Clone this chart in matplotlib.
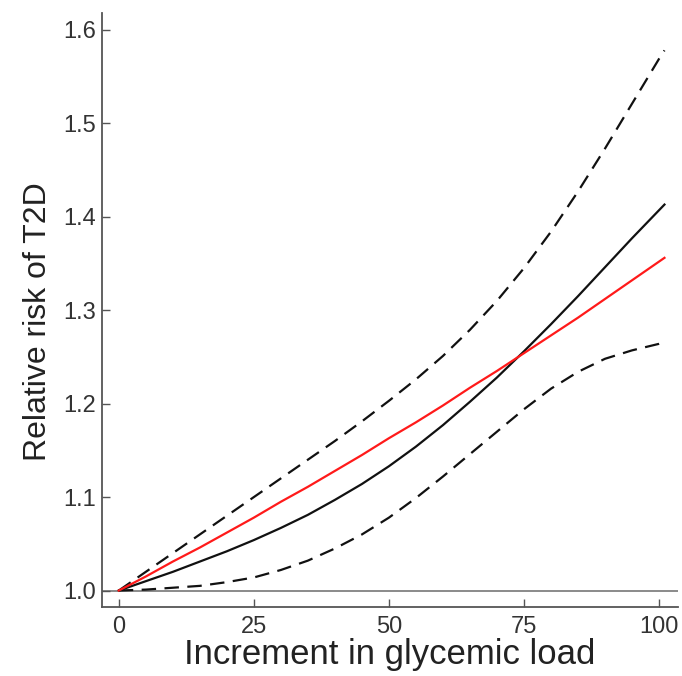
import matplotlib
matplotlib.use("Agg")
import matplotlib.pyplot as plt
import numpy as np

plt.rcParams['font.family'] = ['Liberation Sans', 'DejaVu Sans']

# values
gl = [0, 5, 10, 15, 20, 25, 30, 35, 40, 45, 50,
      55, 60, 65, 70, 75, 80, 85, 90, 95, 100, 101]
rr = [1.0, 1.010, 1.020, 1.031, 1.042, 1.054, 1.067, 1.081, 1.097, 1.114, 1.133,
      1.154, 1.177, 1.202, 1.228, 1.256, 1.285, 1.315, 1.346, 1.377, 1.407, 1.413]
rr_upper = [1.0, 1.020, 1.040, 1.060, 1.080, 1.100, 1.120, 1.140, 1.160, 1.181, 1.203,
            1.226, 1.251, 1.279, 1.310, 1.345, 1.384, 1.427, 1.473, 1.521, 1.569, 1.578]
rr_lower = [1.0, 1.001, 1.003, 1.005, 1.009, 1.014, 1.022, 1.032, 1.045, 1.060, 1.078,
            1.099, 1.122, 1.146, 1.170, 1.194, 1.216, 1.234, 1.248, 1.257, 1.264, 1.266]
rr_linear = [1.0, 1.015, 1.031, 1.046, 1.062, 1.078, 1.095, 1.111, 1.128, 1.145, 1.163,
             1.180, 1.198, 1.217, 1.235, 1.254, 1.273, 1.292, 1.312, 1.332, 1.352, 1.356]

xticks = [0, 25, 50, 75, 100]
yticks = [1.0, 1.1, 1.2, 1.3, 1.4, 1.5, 1.6]

fig = plt.figure(figsize=(6.82, 6.76), dpi=100)
ax = fig.add_axes([0.1496, 0.1025, 0.8445, 0.8783])

ax.axhline(1.0, color='#8a8a8a', lw=1.4, zorder=1)
ax.plot(gl, rr_upper, color='#111111', lw=1.6, dashes=(6.5, 3.8))
ax.plot(gl, rr_lower, color='#111111', lw=1.6, dashes=(6.5, 3.8))
ax.plot(gl, rr, color='#111111', lw=1.6)
ax.plot(gl, rr_linear, color='#ff1a1a', lw=1.6)

ax.set_xlim(-3.1, 103.5)
ax.set_ylim(0.9827, 1.618)
ax.set_xticks(xticks)
ax.set_yticks(yticks)
ax.set_xticklabels([str(t) for t in xticks])
ax.set_yticklabels(['%.1f' % t for t in yticks])

for s in ['top', 'right']:
    ax.spines[s].set_visible(False)
for s in ['left', 'bottom']:
    ax.spines[s].set_color('#555555')
    ax.spines[s].set_linewidth(1.3)

ax.tick_params(direction='in', length=6, width=1, color='#555555',
               labelsize=17, labelcolor='#333333')
ax.tick_params(axis='x', pad=7)
ax.tick_params(axis='y', pad=4)

ax.set_xlabel("Increment in glycemic load", fontsize=25, color='#222222', labelpad=0)
ax.set_ylabel("Relative risk of T2D", fontsize=23, color='#222222')
ax.yaxis.set_label_coords(-0.085, 0.481)

fig.savefig("out.png", dpi=100)
